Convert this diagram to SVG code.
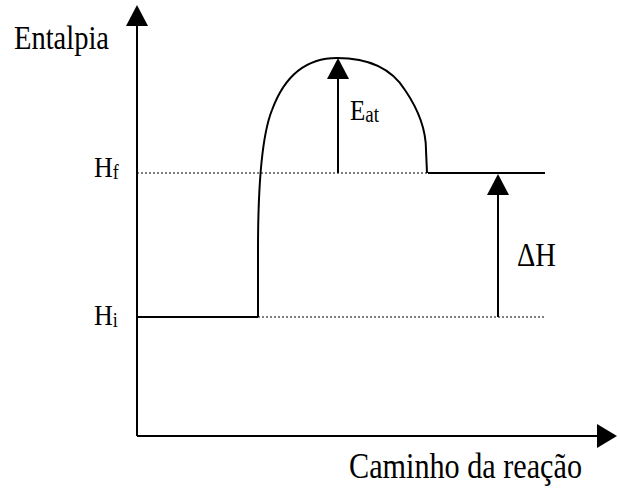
<svg xmlns="http://www.w3.org/2000/svg" width="620" height="488" viewBox="0 0 620 488">
<style>
.t{font-family:'Liberation Serif','Times New Roman',serif;fill:#000}
.ax{stroke:#000;stroke-width:2;fill:none}
.ln{stroke:#000;stroke-width:2;fill:none}
.dot{stroke:#000;stroke-width:1.2;stroke-dasharray:2 2;fill:none}
.ar{stroke:#000;stroke-width:2;fill:none}
.hd{fill:#000}
</style>
<g id="connectors">
<line class="ax" x1="137" y1="436" x2="137" y2="22"/>
<polygon class="hd" points="137,5 126,26 148,26"/>
<line class="ax" x1="137" y1="436" x2="600" y2="436"/>
<polygon class="hd" points="617,436 597,424 597,448"/>
<line class="ln" x1="137" y1="317" x2="258" y2="317"/>
<line class="dot" x1="258" y1="317" x2="545" y2="317"/>
<line class="dot" x1="137" y1="173" x2="428" y2="173"/>
<line class="ln" x1="428" y1="173" x2="545" y2="173"/>
<path class="ln" d="M258,317 L258,250 C258,210 260,140 272,110 C286,72 310,58 337,58 C365,58 390,66 405,90 C420,112 426,130 426,150 L427,173"/>
<line class="ar" x1="338" y1="173" x2="338" y2="76"/>
<polygon class="hd" points="338,58 327,79 349,79"/>
<line class="ar" x1="498" y1="317" x2="498" y2="192"/>
<polygon class="hd" points="498,174 487,195 509,195"/>
</g>
<g id="labels">
<text class="t" font-size="28.5" transform="translate(14,49) scale(1,1.16)">Entalpia</text>
<text class="t" font-size="26" transform="translate(94,177) scale(1,1.16)">H<tspan font-size="18" dy="2">f</tspan></text>
<text class="t" font-size="26" transform="translate(94,325) scale(1,1.16)">H<tspan font-size="18" dy="2">i</tspan></text>
<text class="t" font-size="25" transform="translate(350,120) scale(1,1.16)">E<tspan font-size="19" dy="2">at</tspan></text>
<text class="t" font-size="28.5" transform="translate(517,266) scale(1,1.16)">ΔH</text>
<text class="t" font-size="30.2" transform="translate(349,478) scale(1,1.16)">Caminho da reação</text>
</g>
</svg>
